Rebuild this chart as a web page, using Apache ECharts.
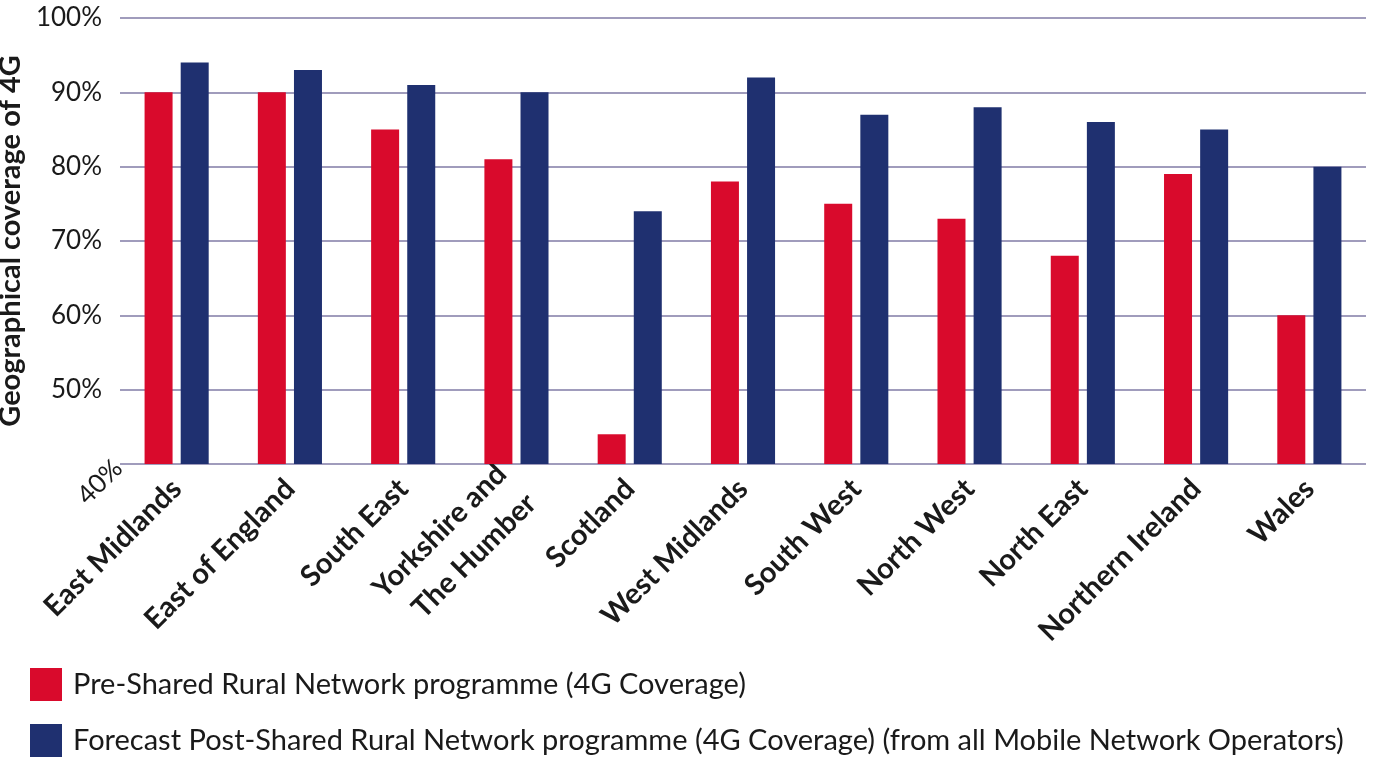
<!DOCTYPE html>
<html>
<head>
<meta charset="utf-8">
<script src="https://cdn.jsdelivr.net/npm/echarts@6/dist/echarts.min.js"></script>
<style>html,body{margin:0;padding:0;background:#fff}#c{width:1381px;height:758px}</style>
</head>
<body>
<div id="c"></div>
<script>
const categories = ['East Midlands','East of England','South East','Yorkshire and\nThe Humber','Scotland','West Midlands','South West','North West','North East','Northern Ireland','Wales'];
const preSRN = [90, 90, 85, 81, 44, 78, 75, 73, 68, 79, 60];
const postSRN = [94, 93, 91, 90, 74, 92, 87, 88, 86, 85, 80];
const seriesNames = ['Pre-Shared Rural Network programme (4G Coverage)', 'Forecast Post-Shared Rural Network programme (4G Coverage) (from all Mobile Network Operators)'];
const yTitle = 'Geographical coverage of 4G';

const chart = echarts.init(document.getElementById('c'));
const FONT = 'Lato';
const legendBase = {
  orient: 'vertical', left: 25, itemWidth: 32, itemHeight: 33,
  icon: 'rect',
  textStyle: {fontSize: 29, color: '#1a1a1a', fontFamily: FONT, padding: [0,0,0,6]}
};
chart.setOption({
  animation: false,
  textStyle: {fontFamily: FONT},
  grid: {left: 120, right: 15, top: 18, bottom: 294, containLabel: false, outerBoundsMode: 'none'},
  legend: [
    Object.assign({}, legendBase, {top: 663, data: [seriesNames[0]]}),
    Object.assign({}, legendBase, {top: 719, data: [seriesNames[1]]})
  ],
  xAxis: {
    type: 'category', data: categories,
    axisLine: {show: false}, axisTick: {show: false},
    axisLabel: {rotate: 45, interval: 0, fontSize: 29, fontWeight: 'bold', color: '#1a1a1a', margin: 20, lineHeight: 42}
  },
  yAxis: [{
    type: 'value', min: 40, max: 100, interval: 10,
    name: yTitle, nameLocation: 'middle', nameGap: 80,
    nameTextStyle: {fontSize: 29, fontWeight: 'bold', color: '#1a1a1a'},
    axisLine: {show: false}, axisTick: {show: false},
    splitLine: {lineStyle: {color: '#a09cbc', width: 2}},
    axisLabel: {fontSize: 26, color: '#1a1a1a', margin: 18, formatter: v => v === 40 ? '' : v + '%'}
  }, {
    type: 'value', min: 40, max: 100, interval: 10, position: 'left',
    axisLine: {show: false}, axisTick: {show: false}, splitLine: {show: false},
    axisLabel: {rotate: 45, fontSize: 26, color: '#1a1a1a', margin: 2, formatter: v => v === 40 ? '40%' : ''}
  }],
  series: [
    {name: seriesNames[0], type: 'bar', data: preSRN, barWidth: 28, barGap: '29%', itemStyle: {color: '#d90a2c'}},
    {name: seriesNames[1], type: 'bar', data: postSRN, barWidth: 28, itemStyle: {color: '#1f3070'}}
  ]
});
</script>
</body>
</html>
